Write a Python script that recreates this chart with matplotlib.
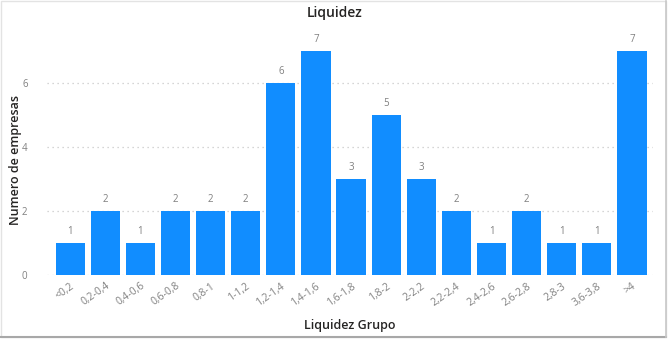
import matplotlib

matplotlib.use("Agg")
import matplotlib.pyplot as plt
from matplotlib.patches import Rectangle

grupos = ["<0,2", "0,2-0,4", "0,4-0,6", "0,6-0,8", "0,8-1", "1-1,2", "1,2-1,4", "1,4-1,6",
          "1,6-1,8", "1,8-2", "2-2,2", "2,2-2,4", "2,4-2,6", "2,6-2,8", "2,8-3", "3,6-3,8", ">4"]
empresas = [1, 2, 1, 2, 2, 2, 6, 7, 3, 5, 3, 2, 1, 2, 1, 1, 7]
y_ticks = [0, 2, 4, 6]

BAR = "#118DFF"
GREY = "#808080"

plt.rcParams["font.family"] = ["Open Sans", "DejaVu Sans"]

fig = plt.figure(figsize=(6.69, 3.39), dpi=100)
ax = fig.add_axes([47 / 669, 1 - 275 / 339, 606 / 669, 230 / 339])

x = range(len(grupos))
bars = ax.bar(x, empresas, width=0.83, color=BAR, zorder=3)
for rect, v in zip(bars, empresas):
    ax.text(rect.get_x() + rect.get_width() / 2, v + 0.18, str(v),
            ha="center", va="bottom", fontsize=7, color=GREY)

ax.set_xlim(-0.66, len(grupos) - 0.4)
ax.set_ylim(0, 7.19)
ax.set_yticks(y_ticks)
ax.tick_params(axis="y", length=0, labelsize=7, labelcolor=GREY, pad=14)
ax.set_xticks(list(x))
ax.set_xticklabels(grupos, rotation=35, ha="right", rotation_mode="anchor",
                   fontsize=7.5, color=GREY)
ax.tick_params(axis="x", length=0, pad=4)
ax.grid(axis="y", linestyle=(0, (1, 3)), color="#c8c8c8", linewidth=0.9, zorder=0)
for s in ax.spines.values():
    s.set_visible(False)

ax.set_xlabel("Liquidez Grupo", fontsize=9, color="#252423", fontweight="semibold", labelpad=8)
ax.set_ylabel("Numero de empresas", fontsize=9, color="#252423", fontweight="semibold", labelpad=0)
fig.text(0.5, 1 - 13 / 339, "Liquidez", ha="center", va="center",
         fontsize=10, color="#252423", fontweight="semibold")

# card frame with a slightly darker edge on the right and bottom
fig.patches.append(Rectangle((0.002, 0.006), 0.994, 0.99, transform=fig.transFigure,
                             fill=False, edgecolor="#e3e3e3", linewidth=1))
fig.lines.append(plt.Line2D([0.002, 0.996], [0.006, 0.006], transform=fig.transFigure,
                            color="#a8a8a8", linewidth=1.5))
fig.lines.append(plt.Line2D([0.996, 0.996], [0.006, 0.996], transform=fig.transFigure,
                            color="#c8c8c8", linewidth=1.2))

fig.savefig("out.png", dpi=100)
